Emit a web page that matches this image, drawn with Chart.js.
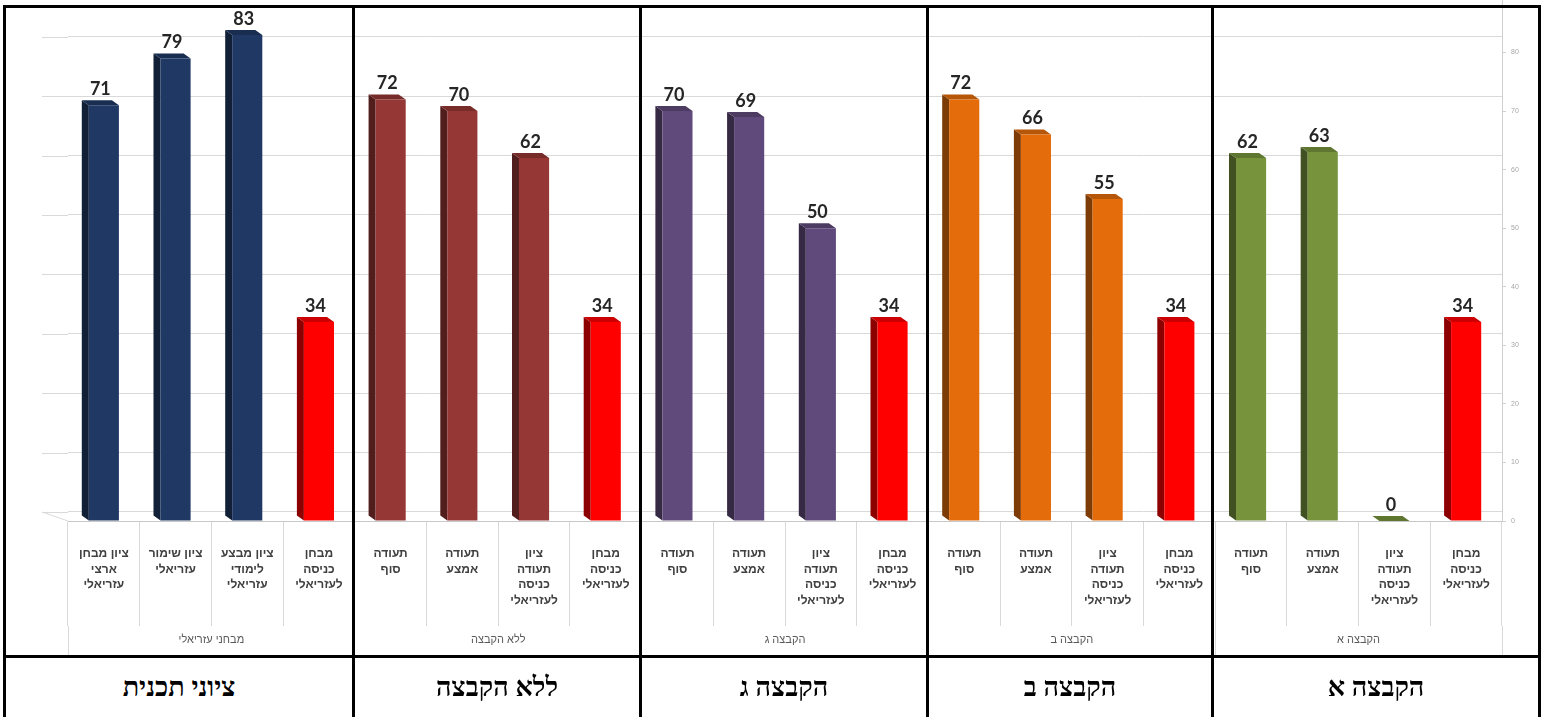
<!DOCTYPE html>
<html lang="he">
<head>
<meta charset="utf-8">
<title>ציונים</title>
<script src="https://cdn.jsdelivr.net/npm/chart.js@4/dist/chart.umd.min.js"></script>
<style>
  body { margin: 0; background: #fff; }
  #wrap { position: relative; width: 1543px; height: 717px; overflow: hidden; }
  #grafico { position: absolute; left: 0; top: -20px; }
  .linha { position: absolute; background: #000; }
  .celula {
    position: absolute; top: 658px; height: 59px;
    display: flex; align-items: center; justify-content: center;
    font: bold 27px 'Liberation Serif', 'DejaVu Serif', serif;
    color: #000; direction: rtl;
  }
</style>
</head>
<body>
<div id="wrap">
  <canvas id="grafico" width="1543" height="676"></canvas>
</div>
<script>
const grupos = ['מבחני עזריאלי', 'ללא הקבצה', 'הקבצה ג', 'הקבצה ב', 'הקבצה א'];

const rotulos = [
  ['ציון מבחן', 'ארצי', 'עזריאלי'],
  ['ציון שימור', 'עזריאלי'],
  ['ציון מבצע', 'לימודי', 'עזריאלי'],
  ['מבחן', 'כניסה', 'לעזריאלי'],
  ['תעודה', 'סוף'],
  ['תעודה', 'אמצע'],
  ['ציון', 'תעודה', 'כניסה', 'לעזריאלי'],
  ['מבחן', 'כניסה', 'לעזריאלי'],
  ['תעודה', 'סוף'],
  ['תעודה', 'אמצע'],
  ['ציון', 'תעודה', 'כניסה', 'לעזריאלי'],
  ['מבחן', 'כניסה', 'לעזריאלי'],
  ['תעודה', 'סוף'],
  ['תעודה', 'אמצע'],
  ['ציון', 'תעודה', 'כניסה', 'לעזריאלי'],
  ['מבחן', 'כניסה', 'לעזריאלי'],
  ['תעודה', 'סוף'],
  ['תעודה', 'אמצע'],
  ['ציון', 'תעודה', 'כניסה', 'לעזריאלי'],
  ['מבחן', 'כניסה', 'לעזריאלי'],
];

const notas = [71, 79, 83, 34, 72, 70, 62, 34, 70, 69, 50, 34, 72, 66, 55, 34, 62, 63, 0, 34];

const escalaMin = 0;
const escalaMax = 90;
const escalaPasso = 10;

const celulas = ['ציוני תכנית', 'ללא הקבצה', 'הקבצה ג', 'הקבצה ב', 'הקבצה א'];

// estilo
const coresGrupo = ['#1f3864', '#953735', '#604a7b', '#e46c0a', '#77933c'];
const corEntrada = '#ff0000';
const DX = 7;
const DY = 5;

const cores = notas.map((n, i) => (i % 4 === 3 ? corEntrada : coresGrupo[Math.floor(i / 4)]));

function escurecer(hex, f) {
  const r = Math.round(parseInt(hex.slice(1, 3), 16) * f);
  const g = Math.round(parseInt(hex.slice(3, 5), 16) * f);
  const b = Math.round(parseInt(hex.slice(5, 7), 16) * f);
  return `rgb(${r},${g},${b})`;
}

// parede do fundo e chao em perspectiva
const parede = {
  id: 'parede',
  beforeDraw(chart) {
    const ctx = chart.ctx;
    const area = chart.chartArea;
    const fundo = chart.scales.fundo;
    ctx.save();
    ctx.strokeStyle = '#d9d9d9';
    ctx.lineWidth = 1;
    fundo.ticks.forEach((t) => {
      const y = Math.round(fundo.getPixelForValue(t.value)) + 0.5;
      ctx.beginPath();
      ctx.moveTo(area.left - 26, y);
      ctx.lineTo(area.left, y);
      ctx.stroke();
    });
    const y0 = fundo.getPixelForValue(0);
    ctx.beginPath();
    ctx.moveTo(area.left - 26, y0);
    ctx.lineTo(area.left, area.bottom);
    ctx.stroke();
    ctx.restore();
  },
};

const barra3d = {
  id: 'barra3d',
  beforeDatasetsDraw(chart) {
    const ctx = chart.ctx;
    chart.getDatasetMeta(0).data.forEach((bar, i) => {
      const p = bar.getProps(['x', 'y', 'base', 'width'], true);
      const left = p.x - p.width / 2;
      const right = p.x + p.width / 2;
      ctx.save();
      ctx.fillStyle = escurecer(cores[i], 0.55);
      ctx.beginPath();
      ctx.moveTo(left, p.y);
      ctx.lineTo(left - DX, p.y - DY);
      ctx.lineTo(left - DX, p.base - DY);
      ctx.lineTo(left, p.base);
      ctx.closePath();
      ctx.fill();
      ctx.fillStyle = escurecer(cores[i], 0.8);
      ctx.beginPath();
      ctx.moveTo(left, p.y);
      ctx.lineTo(right, p.y);
      ctx.lineTo(right - DX, p.y - DY);
      ctx.lineTo(left - DX, p.y - DY);
      ctx.closePath();
      ctx.fill();
      ctx.restore();
    });
  },
  afterDatasetsDraw(chart) {
    const ctx = chart.ctx;
    const valores = chart.data.datasets[0].data;
    ctx.save();
    ctx.font = 'bold 18px Lato, "Liberation Sans", sans-serif';
    ctx.fillStyle = '#262626';
    ctx.textAlign = 'center';
    ctx.textBaseline = 'bottom';
    chart.getDatasetMeta(0).data.forEach((bar, i) => {
      const p = bar.getProps(['x', 'y'], true);
      ctx.fillText(String(valores[i]), p.x - DX / 2, p.y - DY - 2);
    });
    ctx.restore();
  },
};

function montarGrafico() {
  new Chart(document.getElementById('grafico'), {
    type: 'bar',
    data: {
      labels: rotulos,
      datasets: [
        {
          data: notas,
          backgroundColor: cores,
          borderWidth: 0,
          barPercentage: 0.42,
          categoryPercentage: 1,
        },
      ],
    },
    options: {
      responsive: false,
      animation: false,
      layout: { padding: { left: 68, right: 16, top: 14, bottom: 0 } },
      plugins: {
        legend: { display: false },
        tooltip: { enabled: false },
      },
      scales: {
        x: {
          type: 'category',
          position: 'bottom',
          offset: true,
          grid: { drawOnChartArea: false, offset: true, tickLength: 105, color: '#d9d9d9' },
          border: { display: true, color: '#c8c8c8' },
          ticks: {
            autoSkip: false,
            maxRotation: 0,
            minRotation: 0,
            padding: -80,
            color: '#404040',
            font: { family: '"Liberation Sans", Arial, sans-serif', size: 12, weight: 'bold', lineHeight: 1.3 },
          },
          afterFit: (s) => { s.height = 105; },
        },
        x2: {
          type: 'category',
          position: 'bottom',
          labels: grupos,
          offset: true,
          grid: { drawOnChartArea: false, offset: true, tickLength: 30, color: '#d9d9d9' },
          border: { display: false },
          ticks: {
            padding: -23,
            color: '#595959',
            font: { family: '"Liberation Sans", Arial, sans-serif', size: 11, lineHeight: 1.2 },
          },
          afterFit: (s) => { s.height = 30; },
        },
        y: {
          position: 'right',
          min: escalaMin,
          max: escalaMax,
          ticks: {
            stepSize: escalaPasso,
            padding: 5,
            color: '#a6a6a6',
            font: { size: 7 },
          },
          grid: { drawOnChartArea: false, tickLength: 4, color: '#d0d0d0' },
          border: { display: true, color: '#d0d0d0' },
          afterFit: (s) => { s.width = 25; },
        },
        fundo: {
          position: 'left',
          min: -1.52,
          max: 87.2,
          ticks: { display: false, stepSize: escalaPasso, includeBounds: false },
          grid: { drawTicks: false, color: '#d9d9d9' },
          border: { display: false },
          afterFit: (s) => { s.width = 0; },
        },
      },
    },
    plugins: [parede, barra3d],
  });
}

function montarTabela() {
  const wrap = document.getElementById('wrap');
  const bordas = [3, 352, 639, 926, 1211, 1538];

  const linha = (left, top, width, height) => {
    const d = document.createElement('div');
    d.className = 'linha';
    d.style.left = left + 'px';
    d.style.top = top + 'px';
    d.style.width = width + 'px';
    d.style.height = height + 'px';
    wrap.appendChild(d);
  };

  linha(3, 5, 1538, 3);
  linha(3, 655, 1538, 3);
  bordas.forEach((x) => linha(x, 5, 3, 712));

  celulas.forEach((texto, i) => {
    const c = document.createElement('div');
    c.className = 'celula';
    c.style.left = bordas[i] + 3 + 'px';
    c.style.width = bordas[i + 1] - bordas[i] - 3 + 'px';
    c.textContent = texto;
    wrap.appendChild(c);
  });
}

function start() {
  montarGrafico();
  montarTabela();
}
window.addEventListener('load', start);
</script>
</body>
</html>
